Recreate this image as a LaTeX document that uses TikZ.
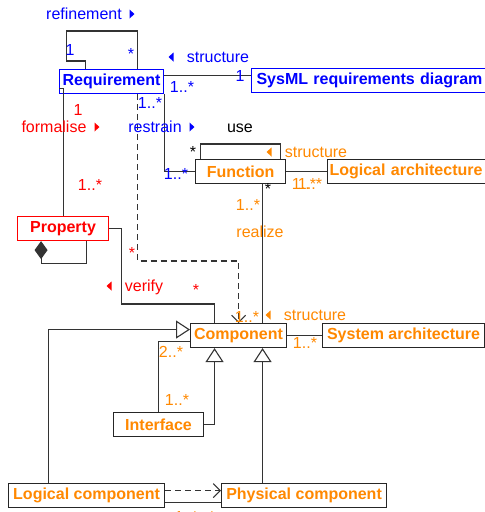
\documentclass[tikz,border=0pt]{standalone}
\usepackage{fontspec}
\setmainfont{Liberation Sans}
\usepackage{tikz}
\usetikzlibrary{calc,arrows.meta}

\definecolor{reqblue}{RGB}{0,0,255}
\definecolor{propred}{RGB}{255,0,0}
\definecolor{archorange}{RGB}{255,136,0}

% small reading-direction triangles
\newcommand{\dirL}[2]{\fill[#1] (#2) ++(2.5,-4.5) -- ++(0,9) -- ++(-5,-4.5) -- cycle;}
\newcommand{\dirR}[2]{\fill[#1] (#2) ++(-2.5,-4.5) -- ++(0,9) -- ++(5,-4.5) -- cycle;}

\begin{document}
\begin{tikzpicture}[x=1pt, y=-1pt, line width=1.1pt, draw=black!80,
    font=\fontsize{16pt}{18pt}\selectfont,
    cls/.style={draw=black!85, fill=white, anchor=north west, inner sep=0pt,
      minimum height=24pt, font=\fontsize{16pt}{18pt}\selectfont\bfseries, text=archorange},
    lbl/.style={inner sep=0pt, text height=11.5pt, text depth=0pt},
    gen/.style={-{Triangle[open, length=14pt, width=18pt]}},
    dep/.style={dash pattern=on 6pt off 4pt, -{Straight Barb[length=7pt, width=14pt]}}]

    \useasboundingbox (0,0) rectangle (485,512);

    % --- 1. classes ---
    \node[cls, draw=reqblue, text=reqblue, minimum width=104pt] (req) at (59,69) {Requirement};
    \node[cls, draw=reqblue, text=reqblue, minimum width=240pt, text width=234pt, align=left] (sysml) at (251,68) {\hspace*{2pt}SysML requirements diagram};
    \node[cls, minimum width=90pt] (func) at (195,159) {Function};
    \node[cls, minimum width=160pt, text width=158pt, align=left] (logarch) at (327,159) {\hspace*{1pt}Logical architecture};
    \node[cls, draw=propred, text=propred, minimum width=91pt] (prop) at (17,216) {Property};
    \node[cls, minimum width=96pt] (comp) at (190,323) {Component};
    \node[cls, minimum width=162pt] (sysarch) at (322,323) {System architecture};
    \node[cls, minimum width=90pt] (iface) at (113,412) {Interface};
    \node[cls, minimum width=156pt] (logcomp) at (8,483) {Logical component};
    \node[cls, minimum width=165pt] (phycomp) at (221,483) {Physical component};

    % --- 2. helper points on the borders ---
    \coordinate (reqE) at ([yshift=6pt]req.east);
    \coordinate (reqS) at ([xshift=26pt]req.south);
    \coordinate (compN) at ([xshift=-24pt]comp.north);
    \coordinate (compR) at ([xshift=24pt]comp.north);
    \coordinate (compWa) at ([yshift=6pt]comp.west);
    \coordinate (compWb) at ([yshift=-6pt]comp.west);
    \coordinate (compSa) at ([xshift=-24pt]comp.south);
    \coordinate (compSb) at ([xshift=24pt]comp.south);
    \coordinate (logE1) at ([yshift=5pt]logcomp.east);
    \coordinate (logE2) at ([yshift=-7pt]logcomp.east);

    % --- 3. associations ---
    \draw ([xshift=-26pt]req.north) -- ++(0,-8) -| ++(-19,-30) -| ([xshift=26pt]req.north);
    \draw (reqE) -- (reqE -| sysml.west);
    \draw (req.south east) |- (func.west);
    \draw ([yshift=-7pt]req.west) -| (prop.north);
    \draw (prop.east) -- ++(12,0) |- (compN |- 0,304) -- (compN);
    \draw[{Diamond[length=18pt, width=13pt]}-] ([xshift=-22pt]prop.south) -- ++(0,22) -| ([xshift=23pt]prop.south);
    \draw ([xshift=-40pt]func.north) -- ++(0,-15) -| ([xshift=40pt]func.north);
    \draw (func.east) -- (logarch.west);
    \draw (compR |- func.south) -- (compR);
    \draw (comp.east) -- (sysarch.west);
    \draw (iface.north) |- (compWb);
    \draw (logE2) -- (logE2 -| phycomp.west);

    % --- 4. dependencies and generalisations ---
    \draw[dep] (reqS) |- (comp.north |- 0,261) -- (comp.north);
    \draw[dep] (logE1) -- (logE1 -| phycomp.west);
    \draw[gen] ([xshift=-38pt]logcomp.north) |- (compWa);
    \draw[gen] (iface.east) -| (compSa);
    \draw[gen] (compSb |- phycomp.north) -- (compSb);

    % --- 5. role names and multiplicities ---
    \foreach \x/\y/\t [count=\i] in {84/14/refinement, 70/50/1, 131/54/*, 218/57/structure,
        240/76/1, 182/87/1..*, 150/103/1..*, 155/127/restrain, 176/174/1..*}
      \node[lbl, text=reqblue] (b\i) at (\x,\y) {\t};
    \foreach \x/\y/\t [count=\i] in {78/110/1, 54/127/formalise, 90/185/1..*, 132/253/*,
        144/286/verify, 196/290/*}
      \node[lbl, text=propred] (r\i) at (\x,\y) {\t};
    \foreach \x/\y/\t [count=\i] in {240/127/use, 193/152/*, 268/189/*}
      \node[lbl, text=black] (k\i) at (\x,\y) {\t};
    \foreach \x/\y/\t [count=\i] in {316/152/structure, 304/184/1..*, 310/184/1..*,
        248/205/1..*, 260/232/realize, 247/317/1..*, 315/315/structure,
        305/343/1..*, 171/352/2..*, 177/400/1..*}
      \node[lbl, text=archorange] (o\i) at (\x,\y) {\t};
    % cut off at the lower edge
    \foreach \x/\t [count=\i] in {179/1, 195/*, 212/*}
      \node[lbl, text=archorange, anchor=north] (c\i) at (\x,510) {\t};

    % reading directions
    \dirR{reqblue}{132,14}
    \dirL{reqblue}{171,57}
    \dirR{propred}{97,127}
    \dirR{reqblue}{192,127}
    \dirL{archorange}{269,152}
    \dirL{propred}{109,286}
    \dirL{archorange}{268,315}

\end{tikzpicture}
\end{document}
